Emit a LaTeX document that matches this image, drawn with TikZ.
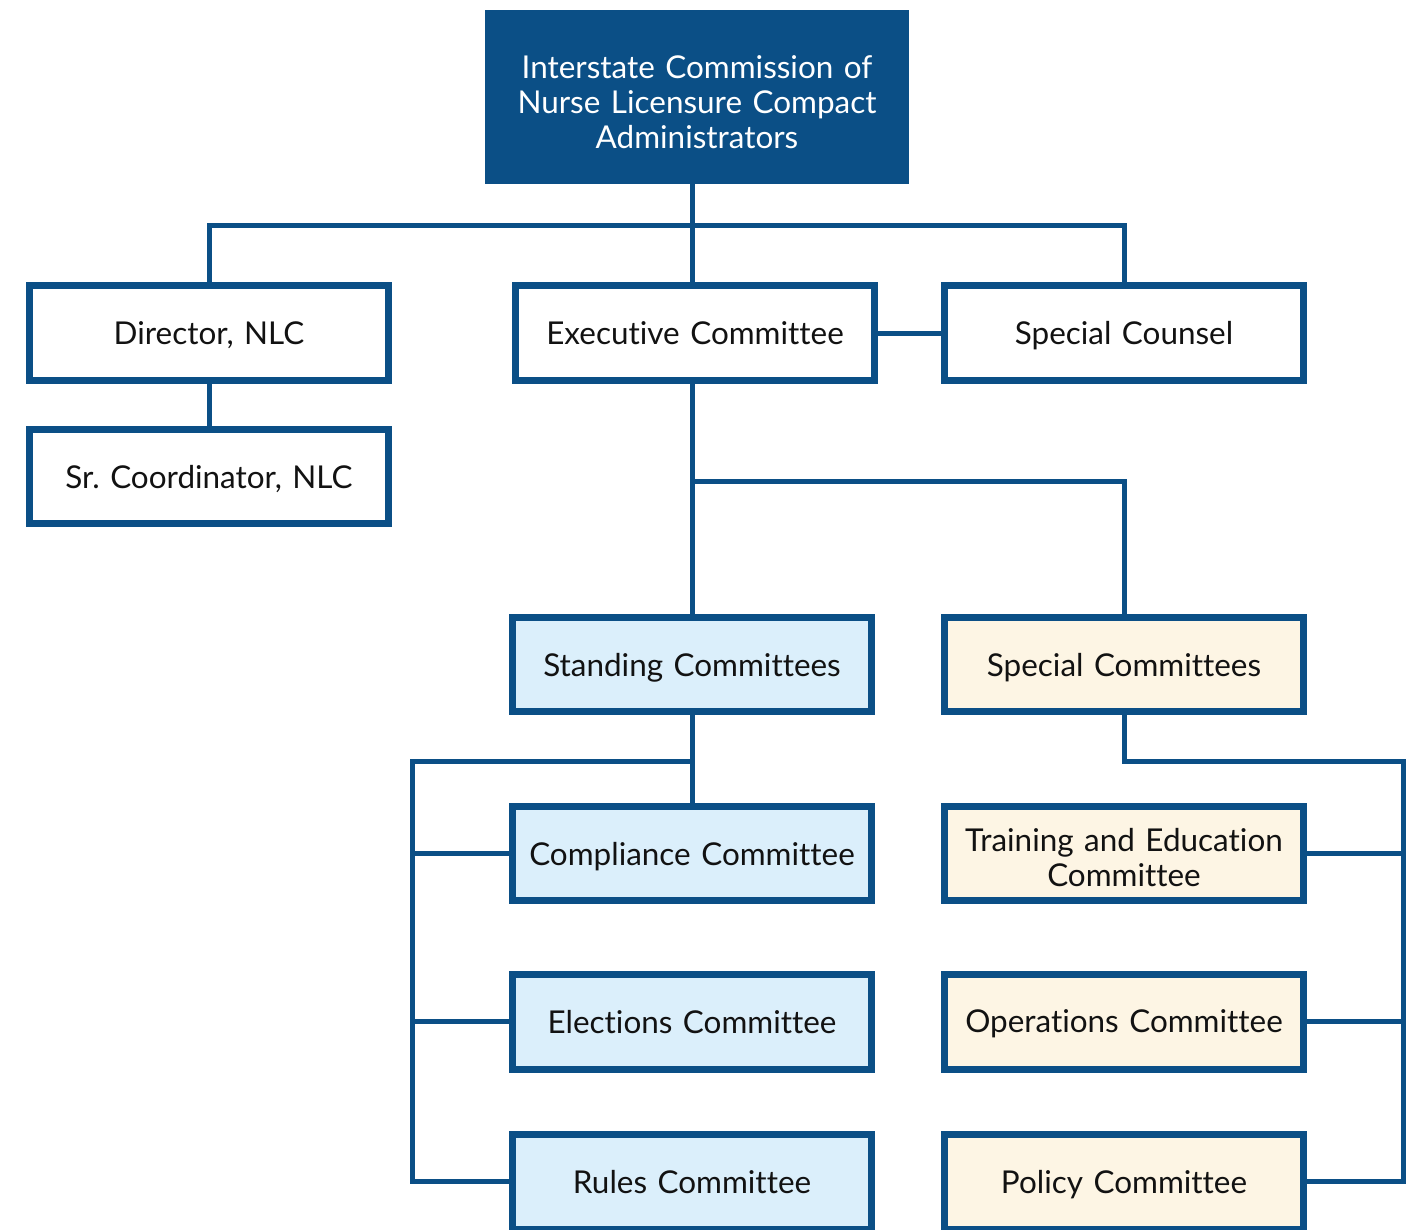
\documentclass[tikz,border=0pt]{standalone}
\usepackage{fontspec}
\setmainfont{Lato}[Ligatures=NoCommon]
\definecolor{nlcblue}{HTML}{0B4F86}
\definecolor{standfill}{HTML}{DBEFFB}
\definecolor{specfill}{HTML}{FDF5E4}
\begin{document}
\begin{tikzpicture}[x=0.02cm, y=-0.02cm,
  box/.style={draw=nlcblue, line width=0.14cm, fill=white, minimum width=7.18cm,
    minimum height=1.9cm, inner sep=0pt, align=center, text width=7cm, text depth=-4pt,
    font=\fontsize{17.9}{20}\selectfont, text=black!93},
  headbox/.style={fill=nlcblue, minimum width=8.48cm, minimum height=3.48cm, inner sep=0pt,
    align=center, text width=8cm, text depth=34.6pt, text=white, font=\fontsize{17.9}{20}\selectfont},
  standing/.style={box, fill=standfill},
  special/.style={box, fill=specfill},
  conn/.style={draw=nlcblue, line width=0.1cm}]
\useasboundingbox (0,0) rectangle (1410,1230);

\node[headbox] (top) at (697,97) {Interstate Commission of\\Nurse Licensure Compact\\Administrators};
\node[box] (dir) at (209,333) {Director, NLC};
\node[box] (exec) at (695,333) {Executive Committee};
\node[box] (couns) at (1124,333) {Special Counsel};
\node[box] (coord) at (209,476.5) {Sr.\ Coordinator, NLC};
\node[standing] (stand) at (692,664.5) {Standing Committees};
\node[special] (spec) at (1124,664.5) {Special Committees};
\node[standing] (compl) at (692,853.5) {Compliance Committee};
\node[standing] (elect) at (692,1021.5) {Elections Committee};
\node[standing] (rules) at (692,1181.5) {Rules Committee};
\node[special, text depth=15.2pt] (train) at (1124,853.5) {Training and Education\\Committee};
\node[special] (oper) at (1124,1021.5) {Operations Committee};
\node[special] (pol) at (1124,1181.5) {Policy Committee};

\coordinate (j1) at (692,225);
\coordinate (j2) at (692,481);
\coordinate (j3) at (412,761);
\coordinate (j4) at (1403,761);

% top level
\begin{scope}[on background layer/.try]
\draw[conn] (top.south -| j1) -- (exec.north -| j1);
\draw[conn] (dir.north) -- (dir.north |- j1) -- (couns.north |- j1) -- (couns.north);
\draw[conn] (dir) -- (coord);
\draw[conn] (exec) -- (couns);
% committees
\draw[conn] (exec.south -| j2) -- (stand.north -| j2);
\draw[conn] (j2) -- (spec.north |- j2) -- (spec.north);
\draw[conn] (stand) -- (compl);
\draw[conn] (stand.south |- j3) -- (j3) -- (j3 |- rules) -- (rules);
\draw[conn] (j3 |- compl) -- (compl);
\draw[conn] (j3 |- elect) -- (elect);
\draw[conn] (spec.south) -- (spec.south |- j4) -- (j4) -- (j4 |- pol) -- (pol);
\draw[conn] (j4 |- train) -- (train);
\draw[conn] (j4 |- oper) -- (oper);
\end{scope}
\end{tikzpicture}
\end{document}
